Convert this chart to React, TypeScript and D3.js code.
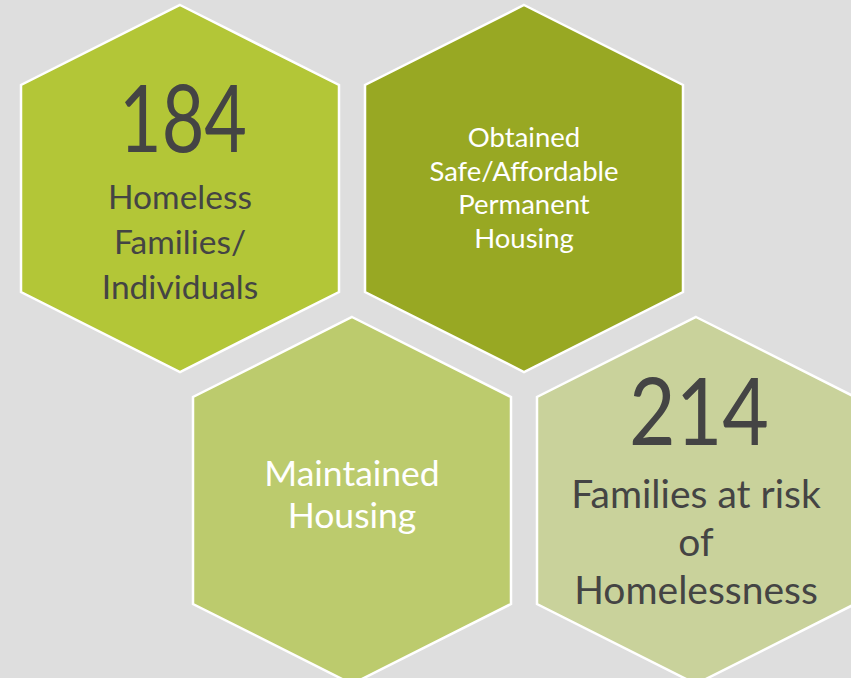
import React from "react";
import * as d3 from "d3";

const items = ["homeless", "obtained", "maintained", "atRisk"];
const numbers = ["184", "", "", "214"];
const numberWidths = [128, 140];
const labelLines = [
  ["Homeless", "Families/", "Individuals"],
  ["Obtained", "Safe/Affordable", "Permanent", "Housing"],
  ["Maintained", "Housing"],
  ["Families at risk", "of", "Homelessness"],
];
const gridCol = [0, 1, 0.5, 1.5];
const gridRow = [0, 0, 1, 1];
const fills = ["#b3c637", "#98a823", "#bccb6d", "#c9d29b"];
const textColors = ["#444444", "#ffffff", "#ffffff", "#444444"];
const labelSizes = [33.5, 27.5, 35.5, 39];
const lineSteps = [45, 33.5, 42, 48];
const labelStart = [209, 147, 486, 508];

const W = 851;
const H = 678;

export default function App() {
  const x = d3.scaleLinear().domain([0, 1]).range([180, 524]);
  const y = d3.scaleLinear().domain([0, 1]).range([188.5, 500.5]);
  const hw = 159;
  const vOff = 183.5;
  const cOff = 103.5;
  const line = d3.line<[number, number]>();

  return (
    <div style={{ position: "fixed", left: 0, top: 0, width: W, height: H, overflow: "hidden" }}>
      <svg width={W} height={H} style={{ display: "block" }}>
        <rect width={W} height={H} fill="#dedede" />
        {items.map((id, i) => {
          const cx = x(gridCol[i]);
          const cy = y(gridRow[i]);
          const pts: [number, number][] = [
            [cx, cy - vOff],
            [cx + hw, cy - cOff],
            [cx + hw, cy + cOff],
            [cx, cy + vOff],
            [cx - hw, cy + cOff],
            [cx - hw, cy - cOff],
          ];
          const nIdx = gridRow[i] === 0 ? 0 : 1;
          return (
            <g key={id}>
              <path d={line(pts) + "Z"} fill={fills[i]} stroke="#ffffff" strokeWidth={2.5} strokeLinejoin="miter" />
              {numbers[i] && (
                <text
                  x={cx + 3}
                  y={gridRow[i] === 0 ? 152 : 445}
                  textAnchor="middle"
                  fontFamily="Lato, 'Open Sans', sans-serif"
                  fontSize={94}
                  fill={textColors[i]}
                  textLength={numberWidths[nIdx]}
                  lengthAdjust="spacingAndGlyphs"
                >
                  {numbers[i]}
                </text>
              )}
              {labelLines[i].map((t, j) => (
                <text
                  key={j}
                  x={cx}
                  y={labelStart[i] + j * lineSteps[i]}
                  textAnchor="middle"
                  fontFamily="Lato, 'Open Sans', sans-serif"
                  fontSize={labelSizes[i]}
                  fill={textColors[i]}
                >
                  {t}
                </text>
              ))}
            </g>
          );
        })}
      </svg>
    </div>
  );
}
